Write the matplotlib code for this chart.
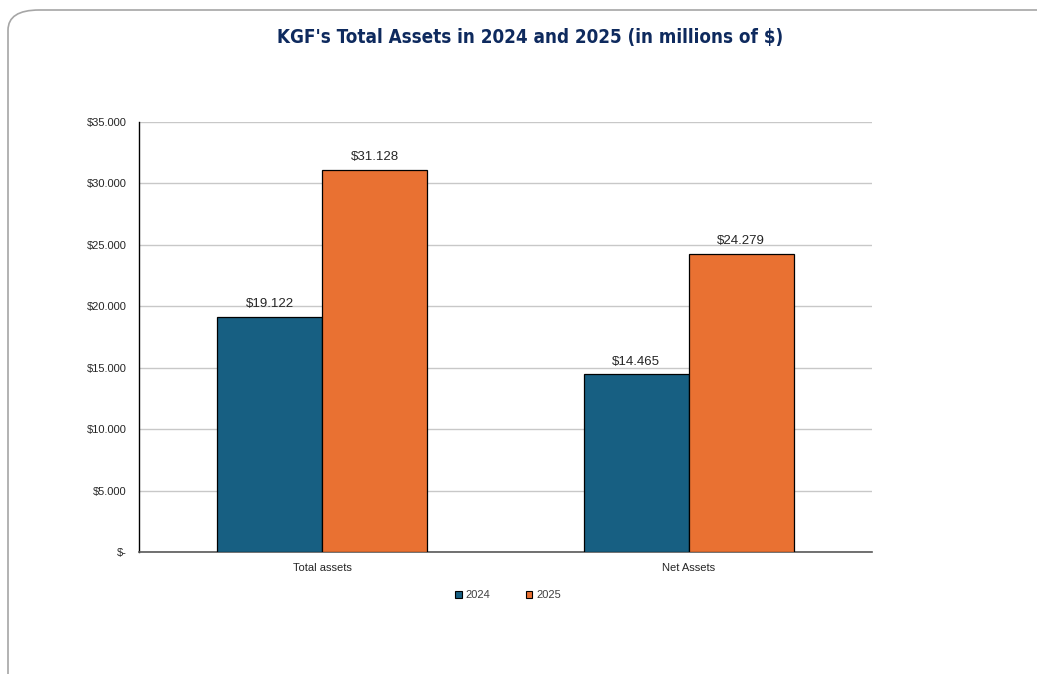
import matplotlib
matplotlib.use("Agg")
import matplotlib.pyplot as plt
from matplotlib.patches import FancyBboxPatch, Patch
import numpy as np

categories = ["Total assets", "Net Assets"]
series_names = ["2024", "2025"]
values_2024 = [19122, 14465]
values_2025 = [31128, 24279]
y_ticks = [0, 5000, 10000, 15000, 20000, 25000, 30000, 35000]
y_tick_labels = ["$-", "$5.000", "$10.000", "$15.000", "$20.000", "$25.000", "$30.000", "$35.000"]

colors = ["#175F82", "#E97132"]

W, H = 1037, 674
fig = plt.figure(figsize=(W / 100, H / 100), dpi=100)

frame = FancyBboxPatch((8 / W, -0.1), 1.2, (H - 10) / H + 0.1,
                       boxstyle="round,pad=0,rounding_size=0.03",
                       transform=fig.transFigure, fill=False,
                       edgecolor="#A6A6A6", linewidth=1.2, clip_on=False)
fig.patches.append(frame)

ax = fig.add_axes([139 / W, 1 - 552 / H, (872 - 139) / W, (552 - 122) / H])

x = np.arange(len(categories))
bw = 0.286
b1 = ax.bar(x - bw / 2, values_2024, bw, color=colors[0], edgecolor="black", linewidth=0.9, label=series_names[0], zorder=3)
b2 = ax.bar(x + bw / 2, values_2025, bw, color=colors[1], edgecolor="black", linewidth=0.9, label=series_names[1], zorder=3)

for bars, vals in ((b1, values_2024), (b2, values_2025)):
    for rect, v in zip(bars, vals):
        ax.text(rect.get_x() + rect.get_width() / 2, v + 550,
                "$" + f"{v:,}".replace(",", "."), ha="center", va="bottom",
                fontsize=9.5, color="#262626", family="Liberation Sans")

ax.set_xlim(-0.5, 1.5)
ax.set_ylim(0, 35000)
ax.set_yticks(y_ticks)
ax.set_yticklabels(y_tick_labels, family="Liberation Sans", fontsize=8, color="#262626")
ax.set_xticks(x)
ax.set_xticklabels(categories, fontsize=8, color="#262626", family="Liberation Sans")
ax.tick_params(axis="both", length=0)
ax.tick_params(axis="y", pad=9)
ax.tick_params(axis="x", pad=8)
ax.yaxis.grid(True, color="#C8C8C8", linewidth=1, zorder=0)
ax.set_axisbelow(True)
for s in ("top", "right"):
    ax.spines[s].set_visible(False)
ax.spines["left"].set_color("black")
ax.spines["left"].set_linewidth(1)
ax.spines["bottom"].set_color("#595959")
ax.spines["bottom"].set_linewidth(1.2)

handles = [Patch(facecolor=c, edgecolor="black", linewidth=0.8) for c in colors]
fig.legend(handles, series_names, loc="center", bbox_to_anchor=(508 / W, 1 - 595 / H),
           ncol=2, frameon=False, handlelength=0.6, handleheight=0.6,
           handletextpad=0.35, columnspacing=3.2, labelcolor="#404040",
           prop={"family": "Liberation Sans", "size": 8})

fig.text(530 / W, 1 - 37 / H, "KGF's Total Assets in 2024 and 2025 (in millions of $)",
         ha="center", va="center", fontsize=13.5, fontweight="bold", color="#0E2A5E",
         family="DejaVu Sans", fontstretch="condensed")

fig.savefig("out.png", dpi=100)
